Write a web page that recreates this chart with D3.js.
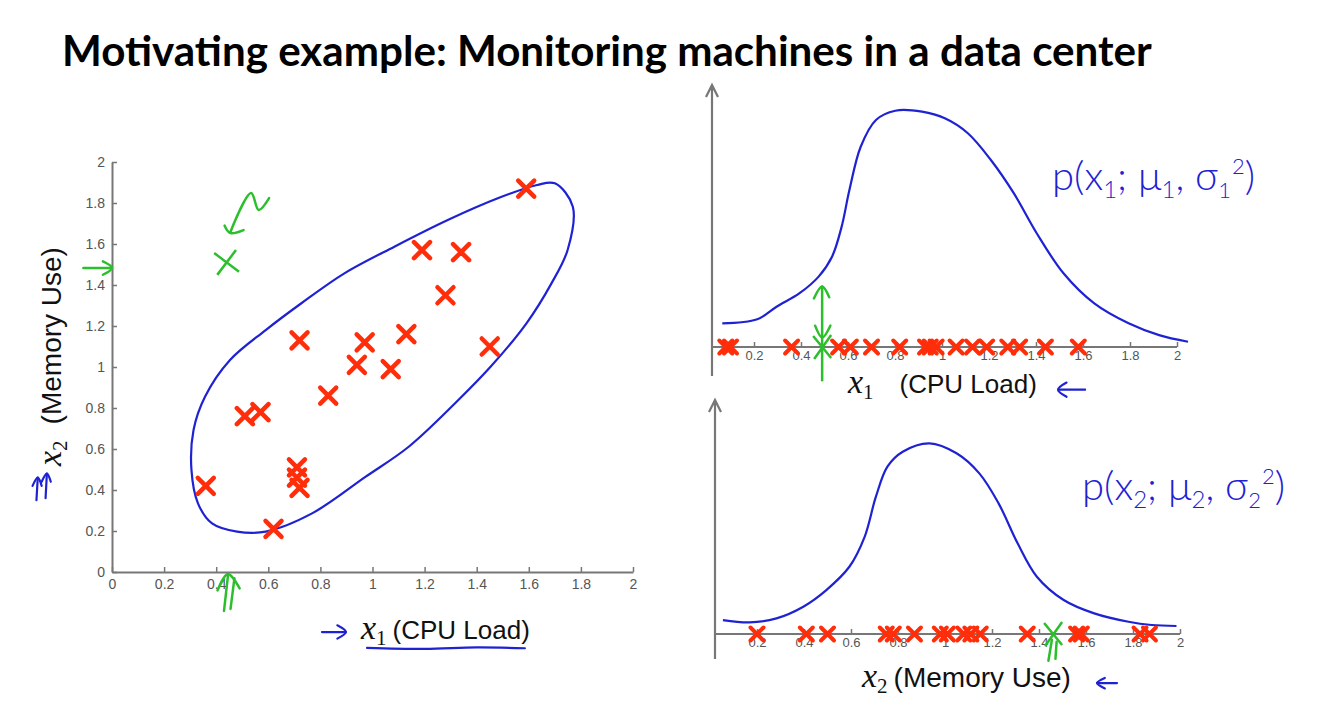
<!DOCTYPE html>
<html>
<head>
<meta charset="utf-8">
<script src="https://cdn.jsdelivr.net/npm/d3@7"></script>
<style>
  body { margin: 0; background: #fff; }
  .tick text { font-family: "Liberation Sans", Arial, sans-serif; fill: #555; }
  .tick line, .domain { stroke: #777; }
</style>
</head>
<body>
<svg id="chart" width="1339" height="711"></svg>
<script>
// ---- data ----
var ticks = [0, 0.2, 0.4, 0.6, 0.8, 1, 1.2, 1.4, 1.6, 1.8, 2];

// training examples (x1 = CPU load, x2 = memory use)
var cpuLoad   = [1.59, 1.19, 1.34, 1.28, 0.72, 0.97, 1.13, 1.45, 0.94, 1.07, 0.83, 0.51, 0.57, 0.71, 0.71, 0.72, 0.36, 0.62];
var memoryUse = [1.87, 1.57, 1.56, 1.35, 1.13, 1.12, 1.16, 1.10, 1.01, 0.99, 0.86, 0.76, 0.78, 0.51, 0.46, 0.41, 0.42, 0.21];

// the anomalous (green) example
var anomalyX1 = 0.44, anomalyX2 = 1.51;

// hand drawn loop around the data
var loopX1 = [1.70, 1.769, 1.749, 1.687, 1.591, 1.454, 1.317, 1.139, 0.974, 0.768, 0.59, 0.48, 0.384, 0.33, 0.305, 0.313, 0.357, 0.453, 0.59, 0.727, 0.892, 1.084, 1.289, 1.481, 1.632];
var loopX2 = [1.896, 1.782, 1.571, 1.408, 1.213, 1.002, 0.823, 0.611, 0.465, 0.286, 0.197, 0.197, 0.237, 0.335, 0.498, 0.693, 0.855, 1.034, 1.18, 1.311, 1.457, 1.587, 1.717, 1.823, 1.888];

// x1 values along the top 1D axis
var x1Marks = [0.08, 0.10, 0.36, 0.56, 0.61, 0.70, 0.82, 0.93, 0.95, 0.975, 1.06, 1.13, 1.19, 1.28, 1.33, 1.44, 1.58];
// x2 values along the bottom 1D axis
var x2Marks = [0.20, 0.41, 0.50, 0.75, 0.78, 0.87, 0.98, 1.01, 1.08, 1.11, 1.15, 1.35, 1.56, 1.58, 1.83, 1.87];

// sketched densities p(x1) and p(x2), relative to their peaks
var p1At = [0.065, 0.214, 0.296, 0.394, 0.475, 0.532, 0.573, 0.606, 0.654, 0.719, 0.801, 0.915, 1.012, 1.11, 1.208, 1.306, 1.403, 1.517, 1.648, 1.794, 1.924, 2.047];
var p1   = [0.10, 0.117, 0.17, 0.227, 0.297, 0.381, 0.508, 0.662, 0.845, 0.958, 0.997, 0.993, 0.965, 0.902, 0.789, 0.648, 0.48, 0.311, 0.184, 0.10, 0.05, 0.022];
var p2At = [0.055, 0.169, 0.283, 0.397, 0.495, 0.593, 0.658, 0.706, 0.755, 0.82, 0.934, 1.049, 1.146, 1.228, 1.309, 1.391, 1.505, 1.635, 1.781, 1.879, 1.985];
var p2   = [0.073, 0.061, 0.082, 0.143, 0.23, 0.352, 0.509, 0.719, 0.876, 0.954, 0.998, 0.946, 0.841, 0.684, 0.475, 0.30, 0.178, 0.108, 0.064, 0.047, 0.042];

// pen strokes, in each panel's data units
var leftGreen = [
  [[0.603, 1.824], [0.563, 1.766], [0.534, 1.849], [0.453, 1.654]],
  [[0.432, 1.690], [0.453, 1.654], [0.505, 1.668]],
  [[-0.11, 1.483], [0, 1.483]],
  [[-0.035, 1.515], [0, 1.483], [-0.035, 1.45]],
  [[0.43, -0.19], [0.445, -0.02]],
  [[0.455, -0.18], [0.47, -0.03]],
  [[0.405, -0.09], [0.445, -0.01], [0.49, -0.08]]
];
var leftBlue = [
  [[0.806, -0.293], [0.898, -0.293]],
  [[0.865, -0.26], [0.898, -0.293], [0.865, -0.325]],
  [[0.979, -0.37], [1.2, -0.375], [1.4, -0.368], [1.585, -0.372]],
  [[-0.29, 0.35], [-0.285, 0.46]],
  [[-0.305, 0.42], [-0.285, 0.46], [-0.27, 0.42]],
  [[-0.255, 0.36], [-0.25, 0.48]],
  [[-0.27, 0.44], [-0.25, 0.48], [-0.235, 0.44]]
];
var topGreen = [
  [[0.49, -0.14], [0.49, 0.255]],
  [[0.455, 0.205], [0.49, 0.255], [0.52, 0.21]],
  [[0.46, 0.09], [0.49, 0.04], [0.525, 0.09]]
];
var topBlue = [
  [[1.494, -0.18], [1.609, -0.18]],
  [[1.53, -0.15], [1.494, -0.18], [1.53, -0.21]]
];
var bottomGreen = [
  [[1.44, -0.14], [1.455, -0.03]],
  [[1.47, -0.13], [1.475, -0.04]]
];
var bottomBlue = [
  [[1.647, -0.257], [1.732, -0.257]],
  [[1.68, -0.23], [1.647, -0.257], [1.68, -0.285]]
];

// ---- drawing ----
var svg = d3.select("#chart");
var red = "#ff2d0a", blue = "#1e22d2", green = "#2cbf2c", grey = "#777";
var serif = "'Liberation Serif', 'DejaVu Serif', serif";
var sans = "'Liberation Sans', Arial, sans-serif";

function cross(s) {
  return "M" + (-s) + "," + (-s) + "L" + s + "," + s + "M" + (-s) + "," + s + "L" + s + "," + (-s);
}

function strokes(g, list, x, y, color, w) {
  var line = d3.line().x(function(d) { return x(d[0]); }).y(function(d) { return y(d[1]); }).curve(d3.curveCatmullRom);
  g.selectAll(null).data(list).enter().append("path")
    .attr("d", line)
    .attr("fill", "none")
    .attr("stroke", color)
    .attr("stroke-width", w)
    .attr("stroke-linecap", "round")
    .attr("stroke-linejoin", "round");
}

// x with subscript, then the quantity in words
function axisLabel(t, sub, words, size, gap) {
  t.append("tspan").attr("font-family", serif).attr("font-style", "italic").attr("font-size", 34).text("x");
  t.append("tspan").attr("font-family", serif).attr("font-size", 21).attr("dy", 6).text(sub);
  t.append("tspan").attr("font-family", sans).attr("font-size", size).attr("dy", -6).attr("dx", gap).text(words);
}

// title
var title = svg.append("text")
  .attr("x", 62).attr("y", 66)
  .attr("font-family", "Lato, 'Open Sans', sans-serif")
  .attr("font-weight", "bold")
  .attr("font-size", 38)
  .attr("fill", "#000")
  .text("Motivating example: Monitoring machines in a data center");
var tw = title.node().getComputedTextLength();
title.attr("font-size", 38 * 1090 / tw);

// ---- left: scatter of x1 vs x2 ----
var xL = d3.scaleLinear().domain([0, 2]).range([112, 633]);
var yL = d3.scaleLinear().domain([0, 2]).range([572, 162]);
var left = svg.append("g");

left.append("g")
  .attr("transform", "translate(0," + yL(0) + ")")
  .call(d3.axisBottom(xL).tickValues(ticks).tickFormat(d3.format("~g")).tickSizeInner(-5).tickSizeOuter(0).tickPadding(7))
  .call(function(g) { g.selectAll("text").attr("font-size", 14); });
left.append("g")
  .attr("transform", "translate(" + xL(0) + ",0)")
  .call(d3.axisLeft(yL).tickValues(ticks).tickFormat(d3.format("~g")).tickSizeInner(-5).tickSizeOuter(0).tickPadding(7))
  .call(function(g) { g.selectAll("text").attr("font-size", 14); });
left.selectAll(".domain").attr("stroke-width", 2);
left.selectAll(".tick line").attr("stroke-width", 1.5);

var loop = d3.line()
  .x(function(i) { return xL(loopX1[i]); })
  .y(function(i) { return yL(loopX2[i]); })
  .curve(d3.curveCatmullRomClosed);
left.append("path")
  .attr("d", loop(d3.range(loopX1.length)))
  .attr("fill", "none").attr("stroke", blue).attr("stroke-width", 2.2);

left.selectAll(".pt").data(d3.range(cpuLoad.length)).enter().append("path")
  .attr("class", "pt")
  .attr("transform", function(i) { return "translate(" + xL(cpuLoad[i]) + "," + yL(memoryUse[i]) + ")"; })
  .attr("d", cross(8))
  .attr("stroke", red).attr("stroke-width", 4.5).attr("stroke-linecap", "round");

left.append("path")
  .attr("transform", "translate(" + xL(anomalyX1) + "," + yL(anomalyX2) + ") rotate(-8)")
  .attr("d", cross(11))
  .attr("stroke", green).attr("stroke-width", 2.5).attr("fill", "none");

strokes(left, leftGreen, xL, yL, green, 2.5);
strokes(left, leftBlue, xL, yL, blue, 2.2);

axisLabel(left.append("text").attr("x", 361).attr("y", 639).attr("fill", "#111"), "1", "(CPU Load)", 26, 6);
axisLabel(left.append("text").attr("transform", "translate(61,466) rotate(-90)").attr("fill", "#111"), "2", "(Memory Use)", 28, 16);

// ---- right: the two 1D gaussians ----
function oneD(xs, ys, marks, at, vals, axisTop, axisBottom, greenMark, blueStrokes, sub, words, wordSize, gap, labelX, labelY, pX, pY) {
  var g = svg.append("g");
  // vertical arrow
  var ax = xs(0) + 5;
  g.append("path")
    .attr("d", "M" + ax + "," + axisBottom + "V" + axisTop + "M" + (ax - 6) + "," + (axisTop + 12) + "L" + ax + "," + axisTop + "L" + (ax + 6) + "," + (axisTop + 12))
    .attr("fill", "none").attr("stroke", grey).attr("stroke-width", 2.2);

  g.append("g")
    .attr("transform", "translate(0," + ys(0) + ")")
    .call(d3.axisBottom(xs).tickValues(ticks.slice(1)).tickFormat(d3.format("~g")).tickSizeInner(-5).tickSizeOuter(0).tickPadding(4))
    .call(function(a) {
      a.selectAll("text").attr("font-size", 13);
      a.select(".domain").attr("d", "M" + ax + ",0H" + xs(2)).attr("stroke-width", 2);
      a.selectAll(".tick line").attr("stroke-width", 1.5);
    });

  var curve = d3.line()
    .x(function(i) { return xs(at[i]); })
    .y(function(i) { return ys(vals[i]); })
    .curve(d3.curveCatmullRom);
  g.append("path")
    .attr("d", curve(d3.range(at.length)))
    .attr("fill", "none").attr("stroke", blue).attr("stroke-width", 2.2);

  g.selectAll(".mk").data(marks).enter().append("path")
    .attr("class", "mk")
    .attr("transform", function(d) { return "translate(" + xs(d) + "," + ys(0) + ")"; })
    .attr("d", cross(6.5))
    .attr("stroke", red).attr("stroke-width", 4).attr("stroke-linecap", "round");

  strokes(g, greenMark.lines, xs, ys, green, 2.5);
  g.append("path")
    .attr("transform", "translate(" + xs(greenMark.at) + "," + ys(0) + ")")
    .attr("d", "M-9,-11L9,11M-8,12L9,-12")
    .attr("stroke", green).attr("stroke-width", 2.5).attr("fill", "none");
  strokes(g, blueStrokes, xs, ys, blue, 2.2);

  axisLabel(g.append("text").attr("x", labelX).attr("y", labelY).attr("fill", "#111"), sub, words, wordSize, gap);

  // handwritten p(x; mu, sigma^2)
  var p = g.append("text").attr("x", pX).attr("y", pY).attr("fill", blue)
    .attr("font-family", "Lato, 'Open Sans', sans-serif").attr("font-weight", 300).attr("font-size", 40);
  p.append("tspan").text("p(x");
  p.append("tspan").attr("font-size", 24).attr("dy", 8).text(sub);
  p.append("tspan").attr("dy", -8).text("; μ");
  p.append("tspan").attr("font-size", 24).attr("dy", 8).text(sub);
  p.append("tspan").attr("dy", -8).text(", σ");
  p.append("tspan").attr("font-size", 22).attr("dy", 8).text(sub);
  p.append("tspan").attr("font-size", 22).attr("dy", -24).attr("dx", 1).text("2");
  p.append("tspan").attr("dy", 16).text(")");
  return g;
}

var xT = d3.scaleLinear().domain([0, 2]).range([707, 1177]);
var yT = d3.scaleLinear().domain([0, 1]).range([347, 110]);
oneD(xT, yT, x1Marks, p1At, p1, 85, 376, { at: 0.49, lines: topGreen }, topBlue,
  "1", "(CPU Load)", 26, 26, 848, 393, 1052, 190);

var xB = d3.scaleLinear().domain([0, 2]).range([710, 1180]);
var yB = d3.scaleLinear().domain([0, 1]).range([634, 443]);
oneD(xB, yB, x2Marks, p2At, p2, 400, 659, { at: 1.46, lines: bottomGreen }, bottomBlue,
  "2", "(Memory Use)", 28, 6, 862, 687, 1082, 500);
</script>
</body>
</html>
